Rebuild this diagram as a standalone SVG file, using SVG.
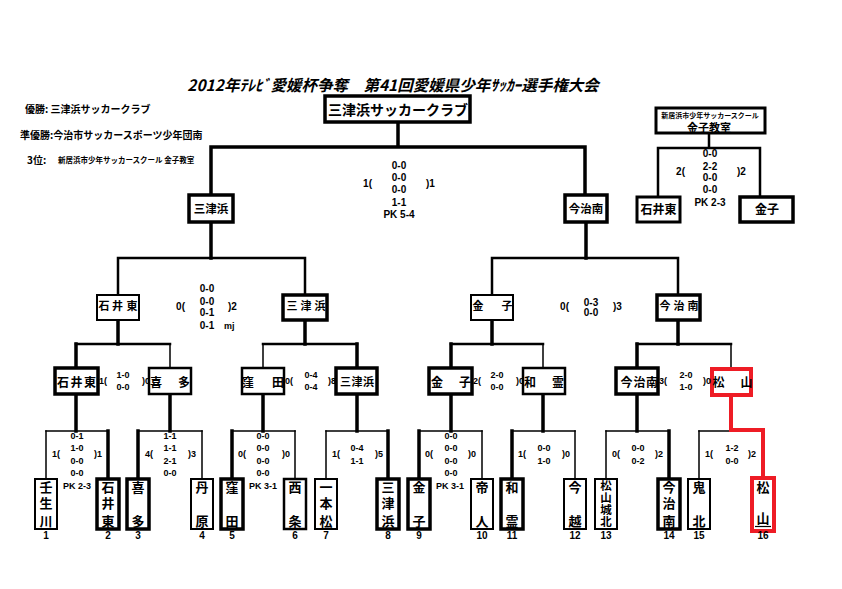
<svg xmlns="http://www.w3.org/2000/svg" width="842" height="589" viewBox="0 0 842 589">
<style>
.ln{fill:none;stroke:#000;stroke-linecap:square}
.w{stroke-width:3.5}
.m{stroke-width:2.5}
.t{stroke-width:1.5}
.red{fill:none;stroke:#ee1c25;stroke-width:4;stroke-linecap:square}
.bx{fill:#fff;stroke:#000}
.bw{stroke-width:3.5}
.bt{stroke-width:2}
.jp{font-family:"Noto Sans CJK JP","Noto Sans CJK SC",sans-serif;font-weight:bold;fill:#000}
.c{text-anchor:middle}
.sc{font-family:"Liberation Sans",Arial,sans-serif;fill:#000;font-size:9px;font-weight:bold}
.s10{font-size:10px}
.e{text-anchor:end}
</style>
<rect width="842" height="589" fill="#fff"/>

<g id="title">
<text class="jp c" x="393" y="91" font-size="15.5" font-style="italic">2012年ﾃﾚﾋﾞ愛媛杯争奪　第41回愛媛県少年ｻｯｶｰ選手権大会</text>
</g>
<g id="legend">
<text class="jp" x="25" y="113" font-size="10">優勝: 三津浜サッカークラブ</text>
<text class="jp" x="20" y="139" font-size="10">準優勝:今治市サッカースポーツ少年団南</text>
<text class="jp" x="27" y="164" font-size="10">3位:</text>
<text class="jp" x="58" y="163" font-size="7.5">新居浜市少年サッカースクール  金子教室</text>
</g>

<g id="connectors">
<path class="ln w" d="M398,122V147M211,147H585M211,147V195M585,147V195M211,222V258M586,222V258"/>
<path class="ln m" d="M118,258H305M492,258H678M118,258V295M305,258V295M492,258V295M678,258V295"/>
<path class="ln w" d="M118,320V344M305,320V344M492,320V344M678,320V344"/>
<path class="ln m" d="M76,344H170M263,344H357M451,344H543M637,344H731"/>
<path class="ln w" d="M76,344V368M357,344V368M451,344V368M637,344V368"/>
<path class="ln t" d="M170,344V368M263,344V368M543,344V368M731,344V368"/>
<path class="ln w" d="M76,394V431M170,394V431M263,394V431M357,394V431M451,394V431M543,394V431M637,394V431"/>
<path class="ln t" d="M46,431H108M138,431H202M232,431H295M326,431H388M419,431H482M512,431H575M606,431H669M699,431H763"/>
<path class="ln w" d="M108,431V479M138,431V479M232,431V479M388,431V479M419,431V479M512,431V479M669,431V479"/>
<path class="ln t" d="M46,431V479M202,431V479M295,431V479M326,431V479M482,431V479M575,431V479M606,431V479M699,431V479"/>
<path class="red" d="M731,397V430H763V477"/>
<path class="ln m" d="M709,133V148M658,148H760M658,148V197M760,148V197"/>
</g>

<g id="champion">
<rect class="bx bw" x="325" y="96" width="145" height="26"/>
<text class="jp c" x="398" y="115" font-size="14">三津浜サッカークラブ</text>
</g>

<g id="third-place">
<rect class="bx" x="656" y="108" width="109" height="25" style="stroke-width:3"/>
<text class="jp c" x="710" y="118" font-size="7">新居浜市少年サッカースクール</text>
<text class="jp c" x="709" y="132" font-size="11">金子教室</text>
</g>
<g id="tp-ishiihigashi">
<rect class="bx" x="637" y="197" width="43" height="25" style="stroke-width:3"/>
<text class="jp c" x="658.5" y="213.5" font-size="12">石井東</text>
</g>
<g id="tp-kaneko">
<rect class="bx bw" x="740" y="197" width="53" height="25"/>
<text class="jp c" x="767" y="213.5" font-size="12">金子</text>
</g>
<g id="tp-score">
<text class="sc s10 c" x="710" y="156.5">0-0</text>
<text class="sc s10 c" x="710" y="169.5">2-2</text>
<text class="sc s10 c" x="710" y="180.5">0-0</text>
<text class="sc s10 c" x="710" y="192.5">0-0</text>
<text class="sc s10 c" x="710" y="205.5">PK 2-3</text>
<text class="sc s10 e" x="685" y="174.5">2(</text>
<text class="sc s10" x="737" y="174.5">)2</text>
</g>

<g id="final-score">
<text class="sc s10 c" x="399" y="168.5">0-0</text>
<text class="sc s10 c" x="399" y="180.5">0-0</text>
<text class="sc s10 c" x="399" y="192.5">0-0</text>
<text class="sc s10 c" x="399" y="205.5">1-1</text>
<text class="sc s10 c" x="399" y="217.5">PK  5-4</text>
<text class="sc s10 e" x="372" y="186.5">1(</text>
<text class="sc s10" x="426" y="186.5">)1</text>
</g>

<g id="sf-mitsuhama">
<rect class="bx bw" x="189" y="195" width="44" height="27"/>
<text class="jp c" x="211" y="212.5" font-size="11.5">三津浜</text>
</g>
<g id="sf-imabarinan">
<rect class="bx bw" x="565" y="195" width="42" height="27"/>
<text class="jp c" x="586" y="212.5" font-size="11.5">今治南</text>
</g>

<g id="qf-ishiihigashi">
<rect class="bx bt" x="97" y="295" width="42" height="25"/>
<text class="jp c" x="104 117.5 132" y="310" font-size="11">石井東</text>
</g>
<g id="qf-mitsuhama">
<rect class="bx bw" x="283" y="295" width="44" height="25"/>
<text class="jp c" x="292 306 320" y="310" font-size="11">三津浜</text>
</g>
<g id="qf-kaneko">
<rect class="bx bt" x="471" y="295" width="42" height="25"/>
<text class="jp c" x="478 507" y="310" font-size="11">金子</text>
</g>
<g id="qf-imabarinan">
<rect class="bx bw" x="657" y="295" width="43" height="25"/>
<text class="jp c" x="665 679 693" y="310" font-size="11">今治南</text>
</g>
<g id="qf-scores">
<text class="sc s10 c" x="207" y="291.5">0-0</text>
<text class="sc s10 c" x="207" y="304.5">0-0</text>
<text class="sc s10 c" x="207" y="315.5">0-1</text>
<text class="sc s10 c" x="207" y="328.5">0-1</text>
<text class="sc" x="224" y="329" font-size="7">mj</text>
<text class="sc s10 e" x="185" y="309.5">0(</text>
<text class="sc s10" x="228" y="309.5">)2</text>
<text class="sc s10 c" x="591" y="305.5">0-3</text>
<text class="sc s10 c" x="591" y="315.5">0-0</text>
<text class="sc s10 e" x="569" y="309.5">0(</text>
<text class="sc s10" x="613" y="309.5">)3</text>
</g>

<g id="r16-ishiihigashi">
<rect class="bx bw" x="55" y="368" width="43" height="26"/>
<text class="jp c" x="63 76.5 90" y="386.5" font-size="12">石井東</text>
</g>
<g id="r16-kita">
<rect class="bx" x="149" y="368" width="42" height="26" style="stroke-width:2.5"/>
<text class="jp c" x="156 184" y="386.5" font-size="12">喜多</text>
</g>
<g id="r16-kubota">
<rect class="bx" x="242" y="368" width="42" height="26" style="stroke-width:2.5"/>
<text class="jp c" x="248 278" y="386.5" font-size="12">窪田</text>
</g>
<g id="r16-mitsuhama">
<rect class="bx bw" x="336" y="368" width="41" height="26"/>
<text class="jp c" x="345.5 357 368.5" y="386" font-size="11">三津浜</text>
</g>
<g id="r16-kaneko">
<rect class="bx bw" x="429" y="368" width="43" height="26"/>
<text class="jp c" x="437 465" y="386.5" font-size="12">金子</text>
</g>
<g id="r16-wakarei">
<rect class="bx" x="523" y="368" width="42" height="26" style="stroke-width:2.5"/>
<text class="jp c" x="530 558" y="386.5" font-size="12">和霊</text>
</g>
<g id="r16-imabarinan">
<rect class="bx bw" x="616" y="368" width="42" height="26"/>
<text class="jp c" x="626.5 639.5 652" y="386.5" font-size="12">今治南</text>
</g>
<g id="r16-matsuyama">
<rect x="712" y="369" width="39" height="26" fill="#fff" stroke="#ee1c25" stroke-width="4"/>
<text class="jp c" x="718.5 746.5" y="386.5" font-size="12">松山</text>
</g>
<g id="r16-scores">
<text class="sc c" x="123" y="378.3">1-0</text>
<text class="sc c" x="123" y="390.3">0-0</text>
<text class="sc e" x="107" y="384.3">1(</text>
<text class="sc" x="142" y="384.3">)0</text>
<text class="sc c" x="311" y="378.3">0-4</text>
<text class="sc c" x="311" y="390.3">0-4</text>
<text class="sc e" x="293" y="384.3">0(</text>
<text class="sc" x="328" y="384.3">)8</text>
<text class="sc c" x="497" y="378.3">2-0</text>
<text class="sc c" x="497" y="390.3">0-0</text>
<text class="sc e" x="481" y="384.3">2(</text>
<text class="sc" x="516" y="384.3">)0</text>
<text class="sc c" x="686" y="378.3">2-0</text>
<text class="sc c" x="686" y="390.3">1-0</text>
<text class="sc e" x="667" y="384.3">3(</text>
<text class="sc" x="703" y="384.3">)0</text>
</g>

<g id="t1"><rect class="bx bt" x="35" y="479" width="22" height="50"/><text class="jp c" x="46 46 46" y="492 508 526" font-size="13">壬生川</text><text class="sc s10 c" x="46" y="539">1</text></g>
<g id="t2"><rect class="bx bw" x="97" y="479" width="22" height="50"/><text class="jp c" x="108 108 108" y="492 508 526" font-size="13">石井東</text><text class="sc s10 c" x="108" y="539">2</text></g>
<g id="t3"><rect class="bx bw" x="127" y="479" width="22" height="50"/><text class="jp c" x="138 138" y="492 526" font-size="13">喜多</text><text class="sc s10 c" x="138" y="539">3</text></g>
<g id="t4"><rect class="bx bt" x="191" y="479" width="22" height="50"/><text class="jp c" x="202 202" y="492 526" font-size="13">丹原</text><text class="sc s10 c" x="202" y="539">4</text></g>
<g id="t5"><rect class="bx bw" x="221" y="479" width="22" height="50"/><text class="jp c" x="232 232" y="492 526" font-size="13">窪田</text><text class="sc s10 c" x="232" y="539">5</text></g>
<g id="t6"><rect class="bx" x="284" y="479" width="22" height="50" style="stroke-width:2.5"/><text class="jp c" x="295 295" y="492 526" font-size="13">西条</text><text class="sc s10 c" x="295" y="539">6</text></g>
<g id="t7"><rect class="bx bt" x="315" y="479" width="22" height="50"/><text class="jp c" x="326 326 326" y="492 508 526" font-size="13">一本松</text><text class="sc s10 c" x="326" y="539">7</text></g>
<g id="t8"><rect class="bx bw" x="377" y="479" width="22" height="50"/><text class="jp c" x="388 388 388" y="492 508 526" font-size="13">三津浜</text><text class="sc s10 c" x="388" y="539">8</text></g>
<g id="t9"><rect class="bx bw" x="408" y="479" width="22" height="50"/><text class="jp c" x="419 419" y="492 526" font-size="13">金子</text><text class="sc s10 c" x="419" y="539">9</text></g>
<g id="t10"><rect class="bx bt" x="471" y="479" width="22" height="50"/><text class="jp c" x="482 482" y="492 526" font-size="13">帝人</text><text class="sc s10 c" x="482" y="539">10</text></g>
<g id="t11"><rect class="bx bw" x="501" y="479" width="22" height="50"/><text class="jp c" x="512 512" y="492 526" font-size="13">和霊</text><text class="sc s10 c" x="512" y="539">11</text></g>
<g id="t12"><rect class="bx bt" x="564" y="479" width="22" height="50"/><text class="jp c" x="575 575" y="492 526" font-size="13">今越</text><text class="sc s10 c" x="575" y="539">12</text></g>
<g id="t13"><rect class="bx bt" x="595" y="479" width="22" height="50"/><text class="jp c" x="606 606 606 606" y="489.5 501.5 513.5 525.5" font-size="11.5">松山城北</text><text class="sc s10 c" x="606" y="539">13</text></g>
<g id="t14"><rect class="bx bw" x="658" y="479" width="22" height="50"/><text class="jp c" x="669 669 669" y="492 508 526" font-size="13">今治南</text><text class="sc s10 c" x="669" y="539">14</text></g>
<g id="t15"><rect class="bx bt" x="688" y="479" width="22" height="50"/><text class="jp c" x="699 699" y="492 526" font-size="13">鬼北</text><text class="sc s10 c" x="699" y="539">15</text></g>
<g id="t16"><rect x="752" y="478" width="22" height="53" fill="#fff" stroke="#ee1c25" stroke-width="4"/><path d="M755,526.5H771" stroke="#000" stroke-width="1.2"/><text class="jp c" x="763 763" y="492 523" font-size="13">松山</text><text class="sc s10 c" x="763" y="539">16</text></g>

<g id="r32-scores">
<text class="sc c" x="77" y="439.3">0-1</text>
<text class="sc c" x="77" y="451.3">1-0</text>
<text class="sc c" x="77" y="464.3">0-0</text>
<text class="sc c" x="77" y="476.3">0-0</text>
<text class="sc c" x="77" y="489.3">PK  2-3</text>
<text class="sc e" x="60" y="457.3">1(</text>
<text class="sc" x="94" y="457.3">)1</text>

<text class="sc c" x="170" y="439.3">1-1</text>
<text class="sc c" x="170" y="451.3">1-1</text>
<text class="sc c" x="170" y="464.3">2-1</text>
<text class="sc c" x="170" y="476.3">0-0</text>
<text class="sc e" x="153" y="457.3">4(</text>
<text class="sc" x="188" y="457.3">)3</text>

<text class="sc c" x="263" y="439.3">0-0</text>
<text class="sc c" x="263" y="451.3">0-0</text>
<text class="sc c" x="263" y="464.3">0-0</text>
<text class="sc c" x="263" y="476.3">0-0</text>
<text class="sc c" x="263" y="489.3">PK  3-1</text>
<text class="sc e" x="246" y="457.3">0(</text>
<text class="sc" x="282" y="457.3">)0</text>

<text class="sc c" x="357" y="451.3">0-4</text>
<text class="sc c" x="357" y="464.3">1-1</text>
<text class="sc e" x="340" y="457.3">1(</text>
<text class="sc" x="375" y="457.3">)5</text>

<text class="sc c" x="451" y="439.3">0-0</text>
<text class="sc c" x="451" y="451.3">0-0</text>
<text class="sc c" x="451" y="464.3">0-0</text>
<text class="sc c" x="451" y="476.3">0-0</text>
<text class="sc c" x="450" y="489.3">PK  3-1</text>
<text class="sc e" x="433" y="457.3">0(</text>
<text class="sc" x="468" y="457.3">)0</text>

<text class="sc c" x="544" y="451.3">0-0</text>
<text class="sc c" x="544" y="464.3">1-0</text>
<text class="sc e" x="526" y="457.3">1(</text>
<text class="sc" x="562" y="457.3">)0</text>

<text class="sc c" x="638" y="451.3">0-0</text>
<text class="sc c" x="638" y="464.3">0-2</text>
<text class="sc e" x="620" y="457.3">0(</text>
<text class="sc" x="655" y="457.3">)2</text>

<text class="sc c" x="732" y="451.3">1-2</text>
<text class="sc c" x="732" y="464.3">0-0</text>
<text class="sc e" x="713" y="457.3">1(</text>
<text class="sc" x="748" y="457.3">)2</text>
</g>
</svg>
